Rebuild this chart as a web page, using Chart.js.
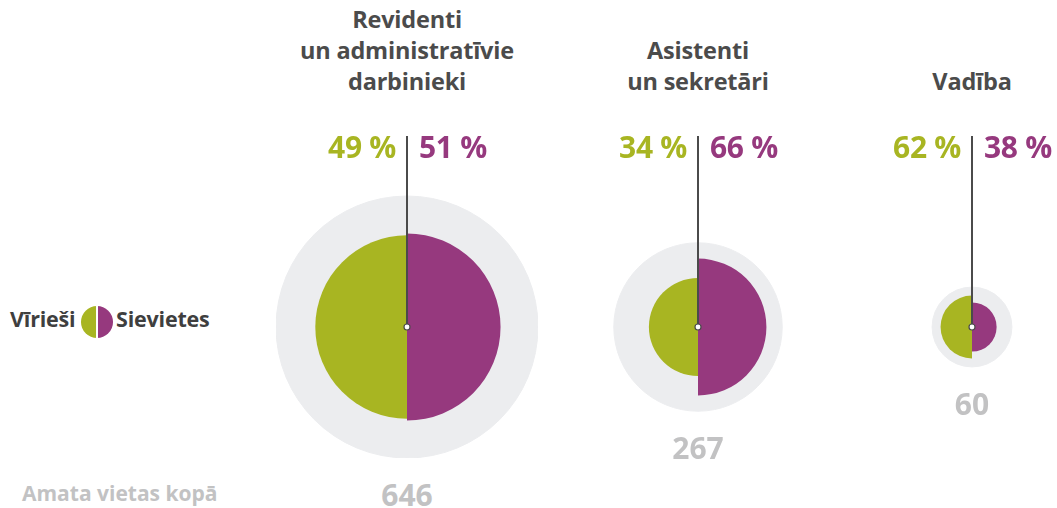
<!DOCTYPE html>
<html>
<head>
<meta charset="utf-8">
<script src="https://cdn.jsdelivr.net/npm/chart.js@4"></script>
<style>
    html, body { margin: 0; width: 1057px; height: 508px; overflow: hidden; background: #fff; }
    body { font-family: "Open Sans", sans-serif; font-weight: 700; }
    .abs { position: absolute; white-space: nowrap; }
    .title { font-size: 23.5px; line-height: 31px; color: #4b4b4b; text-align: center; transform: translateX(-50%); bottom: 411px; letter-spacing: -0.2px; }
    .pct { font-size: 30px; line-height: 30px; top: 132px; letter-spacing: -0.3px; }
    .total { font-size: 30px; line-height: 30px; color: #c2c2c3; transform: translateX(-50%); }
    .legend { font-size: 21.5px; line-height: 21.5px; color: #3f3f3f; top: 308px; letter-spacing: -0.2px; }
    .icon { left: 81px; top: 306px; width: 32px; height: 32px; border-radius: 50%; overflow: hidden; }
    .icon span { position: absolute; top: 0; width: 15px; height: 32px; }
</style>
</head>
<body>
<script>
// Data
const titles = [
    ['Revidenti', 'un administratīvie', 'darbinieki'],
    ['Asistenti', 'un sekretāri'],
    ['Vadība']
];
const totals = [646, 267, 60];        // Amata vietas kopā
const menShare = [49, 34, 62];        // Vīrieši, %
const womenShare = [51, 66, 38];      // Sievietes, %

// Colors
const colors = {
    men: '#a8b522',      // green
    women: '#96397e',    // purple
    total: '#ecedef',    // light gray
    axis: '#4b4b4b'
};

// Layout
const centersX = [407, 698, 972];
const boxSize = 262;
const boxTop = 130;
const padTop = 66;

const scaleMax = Math.sqrt(Math.max(...totals));

function addText(cls, text, style) {
    const el = document.createElement('div');
    el.className = 'abs ' + cls;
    el.innerHTML = text;
    Object.assign(el.style, style || {});
    document.body.appendChild(el);
    return el;
}

// Vertical line from the labels down to the center, with a small dot
const axisLine = {
    id: 'axisLine',
    afterDatasetsDraw(chart) {
        const { ctx } = chart;
        const r = chart.scales.r;
        ctx.save();
        ctx.strokeStyle = colors.axis;
        ctx.lineWidth = 2;
        ctx.beginPath();
        ctx.moveTo(r.xCenter, 6);
        ctx.lineTo(r.xCenter, r.yCenter);
        ctx.stroke();
        ctx.beginPath();
        ctx.arc(r.xCenter, r.yCenter, 3, 0, Math.PI * 2);
        ctx.fillStyle = '#fff';
        ctx.fill();
        ctx.lineWidth = 1.2;
        ctx.stroke();
        ctx.restore();
    }
};

titles.forEach((title, i) => {
    const cx = centersX[i];

    const wrap = document.createElement('div');
    wrap.className = 'abs';
    wrap.style.left = (cx - boxSize / 2) + 'px';
    wrap.style.top = boxTop + 'px';
    const canvas = document.createElement('canvas');
    canvas.width = boxSize;
    canvas.height = boxSize + padTop;
    wrap.appendChild(canvas);
    document.body.appendChild(wrap);

    // radius ~ sqrt(count) so the areas follow the numbers
    const women = totals[i] * womenShare[i] / 100;
    const men = totals[i] * menShare[i] / 100;

    const chart = new Chart(canvas, {
        type: 'polarArea',
        data: {
            labels: ['Sievietes', 'Vīrieši'],
            datasets: [{
                data: [Math.sqrt(women), Math.sqrt(men)],
                backgroundColor: [colors.women, colors.men],
                borderWidth: 0
            }, {
                data: [Math.sqrt(totals[i]), Math.sqrt(totals[i])],
                backgroundColor: colors.total,
                borderColor: colors.total,
                borderWidth: 1
            }]
        },
        options: {
            responsive: false,
            animation: false,
            layout: { padding: { top: padTop } },
            plugins: { legend: { display: false }, tooltip: { enabled: false } },
            scales: {
                r: {
                    min: 0,
                    max: scaleMax,
                    ticks: { display: false },
                    grid: { display: false },
                    angleLines: { display: false },
                    pointLabels: { display: false }
                }
            }
        },
        plugins: [axisLine]
    });

    addText('title', title.join('<br>'), { left: cx + 'px' });
    addText('pct', menShare[i] + '&nbsp;%', { right: (1057 - (cx - 11)) + 'px', color: colors.men });
    addText('pct', womenShare[i] + '&nbsp;%', { left: (cx + 12) + 'px', color: colors.women });

    const r = chart.scales.r;
    const R = r.getDistanceFromCenterForValue(Math.sqrt(totals[i]));
    addText('total', totals[i], { left: cx + 'px', top: (boxTop + r.yCenter + R + 22) + 'px' });
});

// Legend
addText('legend', 'Vīrieši', { left: '10px' });
addText('legend', 'Sievietes', { left: '116px' });
addText('icon', '<span style="left:0;background:' + colors.men + '"></span><span style="right:0;background:' + colors.women + '"></span>');
addText('total', 'Amata vietas kopā', { left: '22px', top: '483px', transform: 'none', fontSize: '21px', lineHeight: '21px' });
</script>
</body>
</html>
